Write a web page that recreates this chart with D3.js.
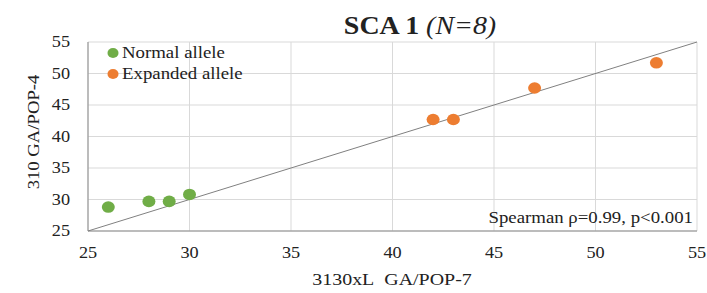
<!DOCTYPE html>
<html>
<head>
<meta charset="utf-8">
<script src="https://cdn.jsdelivr.net/npm/d3@7"></script>
<style>
  body { margin: 0; background: #fff; }
</style>
</head>
<body>
<svg id="chart" width="707" height="293" font-family="'Liberation Serif', 'DejaVu Serif', serif"></svg>
<script>
// data
const normalX = [26, 28, 29, 30];
const normalY = [28.8, 29.7, 29.7, 30.8];
const expandedX = [42, 43, 47, 53];
const expandedY = [42.7, 42.7, 47.7, 51.7];
const xTicks = [25, 30, 35, 40, 45, 50, 55];
const yTicks = [25, 30, 35, 40, 45, 50, 55];
const seriesNames = ["Normal allele", "Expanded allele"];
const seriesColors = ["#70ad47", "#ed7d31"];

const svg = d3.select("#chart");
const margin = {left: 88, right: 10, top: 42, bottom: 62};
const W = 707, H = 293;
const ink = "#222";
// the reference text looks stretched sideways
const wide = 1.14;

const x = d3.scaleLinear().domain([25, 55]).range([margin.left, W - margin.right]);
const y = d3.scaleLinear().domain([25, 55]).range([H - margin.bottom, margin.top]);

// put a text at (px,py) with horizontal stretch
const label = (px, py, s, size, anchor) =>
  svg.append("text")
    .attr("transform", `translate(${px},${py}) scale(${wide},1)`)
    .attr("text-anchor", anchor).attr("fill", ink)
    .style("font-size", size + "px").text(s);

// grid
svg.append("g").selectAll("line").data(xTicks).enter().append("line")
  .attr("x1", d => x(d)).attr("x2", d => x(d))
  .attr("y1", y(25)).attr("y2", y(55))
  .attr("stroke", "#d9d9d9");
svg.append("g").selectAll("line").data(yTicks).enter().append("line")
  .attr("x1", x(25)).attr("x2", x(55))
  .attr("y1", d => y(d)).attr("y2", d => y(d))
  .attr("stroke", "#d9d9d9");

// axes lines
svg.append("line").attr("x1", x(25)).attr("x2", x(25)).attr("y1", y(25)).attr("y2", y(55))
  .attr("stroke", "#8c8c8c");
svg.append("line").attr("x1", x(25)).attr("x2", x(55)).attr("y1", y(25)).attr("y2", y(25))
  .attr("stroke", "#8c8c8c");

// tick labels
xTicks.forEach(d => label(x(d), 258, d, 16, "middle"));
yTicks.forEach(d => label(70, y(d) + 5, d, 16, "end"));

// y = x reference line
svg.append("line")
  .attr("x1", x(25)).attr("y1", y(25)).attr("x2", x(55)).attr("y2", y(55))
  .attr("stroke", "#808080").attr("stroke-width", 1);

// points
const drawPts = (xs, ys, col) => {
  svg.append("g").selectAll("ellipse").data(xs).enter().append("ellipse")
    .attr("cx", d => x(d)).attr("cy", (d, i) => y(ys[i]))
    .attr("rx", 6.5).attr("ry", 5.8)
    .attr("fill", col);
};
drawPts(normalX, normalY, seriesColors[0]);
drawPts(expandedX, expandedY, seriesColors[1]);

// legend
seriesNames.forEach((n, i) => {
  svg.append("ellipse").attr("cx", 113).attr("cy", 53 + i * 21).attr("rx", 5.5).attr("ry", 5)
    .attr("fill", seriesColors[i]);
  label(122, 58 + i * 21, n, 16.5, "start");
});

// title
const title = svg.append("text")
  .attr("transform", `translate(420,34) scale(${wide},1)`)
  .attr("text-anchor", "middle").attr("fill", ink).style("font-size", "24.5px");
title.append("tspan").style("font-weight", "bold").text("SCA 1 ");
title.append("tspan").style("font-style", "italic").text("(N=8)");

// axis titles
label(392, 285, "3130xL\u00a0 GA/POP-7", 17.5, "middle");
svg.append("text").attr("transform", "translate(39,132) rotate(-90) scale(1.1,1)")
  .attr("text-anchor", "middle").attr("fill", ink).style("font-size", "17px").text("310 GA/POP-4");

// stats note
label(693, 223, "Spearman ρ=0.99, p<0.001", 16.5, "end");
</script>
</body>
</html>
